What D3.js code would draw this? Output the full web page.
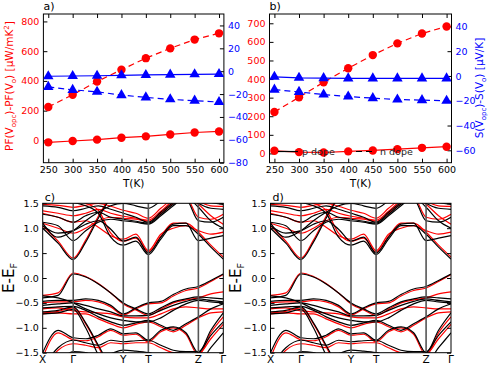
<!DOCTYPE html>
<html><head><meta charset="utf-8">
<script src="https://cdn.jsdelivr.net/npm/d3@7"></script>
<style>body{margin:0;background:#fff} text{font-family:"DejaVu Sans",sans-serif}</style>
</head><body><svg id="fig" width="491" height="368"></svg>
<script>
// ---------- data: thermoelectric panels ----------
const temps = [250,300,350,400,450,500,550,600];
const tempTicks = [250,300,350,400,450,500,550,600];
const aPFdash  = [225,307,396,475,553,619,678,720];
const aPFsolid = [-13,-4,5,18,27,40,53,60];
const aSsolid  = [-4.4,-4.2,-4,-3.6,-3.3,-3,-2.7,-2.5];
const aSdash   = [-13.7,-16.3,-18,-20.9,-22.9,-24.6,-25.8,-27];
const aLeftTicks  = [0,200,400,600,800];
const aRightTicks = [-80,-60,-40,-20,0,20,40];
const bPFdash  = [223,302,383,458,529,592,645,683];
const bPFsolid = [14,7,5,11,16,23,30,36];
const bSsolid  = [-0.7,-1.5,-1.8,-2,-2,-2,-2,-2];
const bSdash   = [-11,-12.9,-15,-16.6,-17.9,-19,-19.5,-20];
const bLeftTicks  = [0,100,200,300,400,500,600,700];
const bRightTicks = [-60,-40,-20,0,20,40];
const legendLabels = ["p dope","n dope"];

// ---------- data: band structures ----------
const kPoints = [0,0.085,0.169,0.238,0.308,0.377,0.446,0.516,0.585,0.654,0.723,0.793,0.862,0.931,1.0];
const kLabels = ["X","Γ","Y","T","Z","Γ"];
const kLabelPos = [0,0.169,0.446,0.585,0.862,1.0];
const eTicks = [-1.5,-1.0,-0.5,0.0,0.5,1.0,1.5];
const bandsBlack = [
 [1.00,0.70,0.37,0.72,1.20,1.62,1.9,1.9,1.9,1.9,1.9,1.9,1.9,1.9,1.9],
 [1.75,1.62,1.52,1.45,1.30,0.82,0.66,0.74,0.47,0.78,1.05,1.05,0.88,0.62,0.38],
 [1.05,0.90,0.95,1.08,1.15,0.98,0.74,0.82,0.50,0.82,1.08,1.10,0.75,0.80,0.85],
 [1.12,1.05,0.75,0.95,1.12,1.18,1.15,1.12,1.08,1.25,1.45,1.62,1.42,1.15,1.00],
 [1.28,1.22,1.12,1.25,1.32,1.22,1.18,1.14,1.10,1.28,1.48,1.58,1.15,1.12,1.22],
 [1.45,1.42,1.35,1.40,1.45,1.38,1.30,1.22,1.12,1.32,1.52,1.70,1.50,1.40,1.38],
 [1.10,0.82,0.95,1.15,1.32,1.45,1.50,1.45,1.40,1.55,1.75,1.85,1.60,1.52,1.48],
 [-0.40,-0.35,0.08,0.02,-0.12,-0.30,-0.50,-0.62,-0.72,-0.60,-0.48,-0.42,-0.38,-0.40,-0.42],
 [-0.47,-0.45,-0.45,-0.42,-0.45,-0.55,-0.72,-0.60,-0.50,-0.47,-0.33,-0.22,-0.17,-0.05,0.08],
 [-0.55,-0.52,-0.50,-0.55,-0.62,-0.68,-0.76,-0.76,-0.75,-0.65,-0.55,-0.47,-0.42,-0.45,-0.48],
 [-0.60,-0.58,-0.57,-0.65,-0.78,-0.88,-0.95,-0.90,-0.85,-0.95,-1.05,-0.92,-0.78,-0.62,-0.52],
 [-0.68,-0.65,-0.58,-0.90,-1.35,-1.80,-2.2,-2.2,-2.2,-2.2,-2.2,-2.2,-2.2,-2.2,-2.2],
 [-0.72,-0.70,-0.63,-1.00,-1.55,-2.00,-2.2,-2.2,-2.2,-2.2,-2.2,-2.2,-2.2,-2.2,-2.2],
 [-0.36,-0.40,-0.50,-0.62,-0.72,-0.80,-0.85,-0.88,-0.88,-0.80,-0.65,-0.52,-0.45,-0.48,-0.50],
 [-1.50,-1.05,-1.20,-1.22,-1.15,-1.02,-1.12,-1.10,-1.25,-1.05,-0.98,-1.10,-1.50,-1.05,-0.70],
 [-1.80,-1.40,-1.25,-1.30,-1.35,-1.25,-1.28,-1.26,-1.25,-1.35,-1.45,-1.48,-1.48,-1.15,-0.88],
 [-2.00,-1.70,-1.48,-1.50,-1.60,-1.52,-1.45,-1.47,-1.50,-1.55,-1.50,-1.52,-1.70,-1.40,-1.10]
];
const bandsRed = [
 [1.05,0.74,0.40,0.76,1.24,1.65,1.9,1.9,1.9,1.9,1.9,1.9,1.9,1.9,1.9],
 [1.80,1.68,1.58,1.50,1.36,0.90,0.74,0.80,0.52,0.84,1.10,1.10,0.92,0.66,0.42],
 [1.30,1.22,1.12,1.15,1.02,0.85,0.78,0.88,0.55,0.88,1.00,1.05,0.95,0.88,0.92],
 [1.10,1.00,0.90,1.00,1.15,1.22,1.20,1.18,1.14,1.30,1.50,1.65,1.48,1.25,1.08],
 [1.35,1.30,1.25,1.30,1.38,1.30,1.24,1.20,1.16,1.34,1.55,1.62,1.22,1.18,1.28],
 [1.48,1.46,1.42,1.46,1.50,1.44,1.36,1.30,1.20,1.40,1.60,1.75,1.55,1.45,1.44],
 [-0.35,-0.30,0.10,0.03,-0.11,-0.30,-0.52,-0.64,-0.75,-0.63,-0.50,-0.44,-0.40,-0.32,-0.28],
 [-0.50,-0.48,-0.48,-0.45,-0.48,-0.58,-0.74,-0.62,-0.52,-0.50,-0.36,-0.25,-0.20,-0.07,0.07],
 [-0.62,-0.60,-0.66,-0.68,-0.70,-0.72,-0.78,-0.80,-0.80,-0.72,-0.62,-0.58,-0.60,-0.62,-0.62],
 [-0.72,-0.70,-0.72,-0.72,-0.82,-0.92,-1.00,-0.93,-0.88,-0.98,-1.08,-0.95,-0.80,-0.70,-0.68],
 [-0.70,-0.67,-0.60,-0.92,-1.38,-1.85,-2.2,-2.2,-2.2,-2.2,-2.2,-2.2,-2.2,-2.2,-2.2],
 [-1.60,-1.10,-1.24,-1.26,-1.18,-1.05,-1.15,-1.13,-1.28,-1.08,-1.00,-1.13,-1.55,-1.10,-0.78],
 [-1.90,-1.45,-1.32,-1.35,-1.40,-1.30,-1.32,-1.30,-1.30,-1.40,-1.50,-1.52,-1.52,-1.22,-0.93]
];

const RED = "#ff0000", BLUE = "#0000ff";
const svg = d3.select("#fig");
svg.append("rect").attr("width",491).attr("height",368).attr("fill","#fff");

function topPanel(o){
  const g = svg.append("g");
  const x = d3.scaleLinear().domain([240,610]).range([o.x0,o.x1]);
  const yL = d3.scaleLinear().domain(o.yL).range([o.y1,o.y0]);
  const yR = d3.scaleLinear().domain(o.yR).range([o.y1,o.y0]);
  const ax = (a)=>a.tickSizeOuter(0).tickPadding(4);
  const gx = g.append("g").attr("transform",`translate(0,${o.y1})`).call(ax(d3.axisBottom(x).tickValues(tempTicks).tickSize(-4)));
  const gxt = g.append("g").attr("transform",`translate(0,${o.y0})`).call(ax(d3.axisTop(x).tickValues(tempTicks).tickSize(-4).tickFormat("")));
  const gl = g.append("g").attr("transform",`translate(${o.x0},0)`).call(ax(d3.axisLeft(yL).tickValues(o.lt).tickSize(-4)));
  const gr = g.append("g").attr("transform",`translate(${o.x1},0)`).call(ax(d3.axisRight(yR).tickValues(o.rt).tickSize(-4)));
  [gx,gxt,gl,gr].forEach(s=>{s.select(".domain").remove(); s.selectAll("text").attr("font-size",9.5).attr("font-family","DejaVu Sans");});
  gx.selectAll("text").attr("fill","#000");
  gl.selectAll("text").attr("fill",RED);
  gr.selectAll("text").attr("fill",BLUE);
  g.append("rect").attr("x",o.x0).attr("y",o.y0).attr("width",o.x1-o.x0).attr("height",o.y1-o.y0)
    .attr("fill","none").attr("stroke","#000").attr("stroke-width",1);
  const clip = "clip"+o.name;
  g.append("clipPath").attr("id",clip).append("rect").attr("x",o.x0).attr("y",o.y0).attr("width",o.x1-o.x0).attr("height",o.y1-o.y0);
  const pg = g.append("g").attr("clip-path",`url(#${clip})`);
  function series(vals, ys, color, dashed, marker){
    const line = d3.line().x((d,i)=>x(temps[i])).y(d=>ys(d));
    pg.append("path").attr("d",line(vals)).attr("fill","none").attr("stroke",color).attr("stroke-width",1.2)
      .attr("stroke-dasharray",dashed?"6,4":null);
    vals.forEach((v,i)=>{
      if(marker==="o") pg.append("circle").attr("cx",x(temps[i])).attr("cy",ys(v)).attr("r",4.2).attr("fill",color);
      else pg.append("path").attr("d",d3.symbol(d3.symbolTriangle,48)()).attr("transform",`translate(${x(temps[i])},${ys(v)})`).attr("fill",color);
    });
  }
  series(o.pfS, yL, RED, false, "o");
  series(o.pfD, yL, RED, true, "o");
  series(o.sS, yR, BLUE, false, "t");
  series(o.sD, yR, BLUE, true, "t");
  g.append("text").attr("x",(o.x0+o.x1)/2).attr("y",187).attr("text-anchor","middle").attr("font-size",10.5).text("T(K)");
  g.append("text").attr("x",o.x0).attr("y",10).attr("font-size",11).text(o.label);
  return {g,x,yL,yR};
}

const A = topPanel({name:"a",x0:43.4,x1:223.9,y0:14,y1:162.7,yL:[-150,850],yR:[-80,50],lt:aLeftTicks,rt:aRightTicks,
  pfS:aPFsolid,pfD:aPFdash,sS:aSsolid,sD:aSdash,label:"a)"});
const B = topPanel({name:"b",x0:269.5,x1:451.5,y0:14,y1:162.7,yL:[-50,750],yR:[-70,50],lt:bLeftTicks,rt:bRightTicks,
  pfS:bPFsolid,pfD:bPFdash,sS:bSsolid,sD:bSdash,label:"b)"});

const yla = svg.append("text").attr("transform","translate(13,86) rotate(-90)").attr("text-anchor","middle")
  .attr("font-size",10.5).attr("fill",RED);
yla.append("tspan").text("PF(V");
yla.append("tspan").attr("font-size",7).attr("dy",2.5).text("opc");
yla.append("tspan").attr("dy",-2.5).text(")-PF(V");
yla.append("tspan").attr("font-size",7).attr("dy",2.5).text("o");
yla.append("tspan").attr("dy",-2.5).text(") [μW/mK");
yla.append("tspan").attr("font-size",7).attr("dy",-4).text("2");
yla.append("tspan").attr("dy",4).text("]");
const ylb = svg.append("text").attr("transform","translate(483,88) rotate(-90)").attr("text-anchor","middle")
  .attr("font-size",10.5).attr("fill",BLUE);
ylb.append("tspan").text("S(V");
ylb.append("tspan").attr("font-size",7).attr("dy",2.5).text("opc");
ylb.append("tspan").attr("dy",-2.5).text(")-S(V");
ylb.append("tspan").attr("font-size",7).attr("dy",2.5).text("o");
ylb.append("tspan").attr("dy",-2.5).text(") [μV/K]");

const lg = svg.append("g");
lg.append("line").attr("x1",278).attr("x2",298).attr("y1",151.5).attr("y2",151.5).attr("stroke","#000").attr("stroke-width",1.2);
lg.append("text").attr("x",302).attr("y",155).attr("font-size",9.5).attr("fill","#222").text(legendLabels[0]);
lg.append("line").attr("x1",356).attr("x2",376).attr("y1",151.5).attr("y2",151.5).attr("stroke","#000").attr("stroke-width",1.2).attr("stroke-dasharray","6,4");
lg.append("text").attr("x",380).attr("y",155).attr("font-size",9.5).attr("fill","#222").text(legendLabels[1]);

function bandPanel(o){
  const g = svg.append("g");
  const x = d3.scaleLinear().domain([0,1]).range([o.x0,o.x1]);
  const y = d3.scaleLinear().domain([-1.5,1.5]).range([o.y1,o.y0]);
  const clip = "clip"+o.name;
  g.append("clipPath").attr("id",clip).append("rect").attr("x",o.x0).attr("y",o.y0).attr("width",o.x1-o.x0).attr("height",o.y1-o.y0);
  const pg = g.append("g").attr("clip-path",`url(#${clip})`);
  const line = d3.line().x((d,i)=>x(kPoints[i])).y(d=>y(d)).curve(d3.curveMonotoneX);
  bandsRed.forEach(b=>pg.append("path").attr("d",line(b)).attr("fill","none").attr("stroke",RED).attr("stroke-width",1.2));
  bandsBlack.forEach(b=>pg.append("path").attr("d",line(b)).attr("fill","none").attr("stroke","#000").attr("stroke-width",1.2));
  kLabelPos.slice(1,-1).forEach(k=>g.append("line").attr("x1",x(k)).attr("x2",x(k)).attr("y1",o.y0).attr("y2",o.y1)
    .attr("stroke","#555").attr("stroke-width",1.6));
  const gl = g.append("g").attr("transform",`translate(${o.x0},0)`).call(d3.axisLeft(y).tickValues(eTicks).tickFormat(d3.format(".1f")).tickSize(-4).tickSizeOuter(0).tickPadding(4));
  const gr = g.append("g").attr("transform",`translate(${o.x1},0)`).call(d3.axisRight(y).tickValues(eTicks).tickFormat("").tickSize(-4).tickSizeOuter(0));
  [gl,gr].forEach(s=>{s.select(".domain").remove(); s.selectAll("text").attr("font-size",9.5).attr("font-family","DejaVu Sans").attr("fill","#000");});
  g.append("rect").attr("x",o.x0).attr("y",o.y0).attr("width",o.x1-o.x0).attr("height",o.y1-o.y0)
    .attr("fill","none").attr("stroke","#000").attr("stroke-width",1);
  kLabels.forEach((l,i)=>g.append("text").attr("x",x(kLabelPos[i])).attr("y",363).attr("text-anchor","middle")
    .attr("font-size",10.5).attr("font-family",l==="Γ"?"DejaVu Serif":"DejaVu Sans").text(l));
  g.append("text").attr("x",o.x0+2).attr("y",201).attr("font-size",11).text(o.label);
  const yl = g.append("text").attr("transform",`translate(${o.lx},278) rotate(-90)`).attr("text-anchor","middle").attr("font-size",15);
  yl.append("tspan").text("E-E");
  yl.append("tspan").attr("font-size",9.5).attr("dy",3).text("F");
}
bandPanel({name:"c",x0:42.7,x1:223.3,y0:203.3,y1:352.7,label:"c)",lx:14});
bandPanel({name:"d",x0:270.5,x1:451,y0:203.3,y1:352.7,label:"d)",lx:241});
</script></body></html>
